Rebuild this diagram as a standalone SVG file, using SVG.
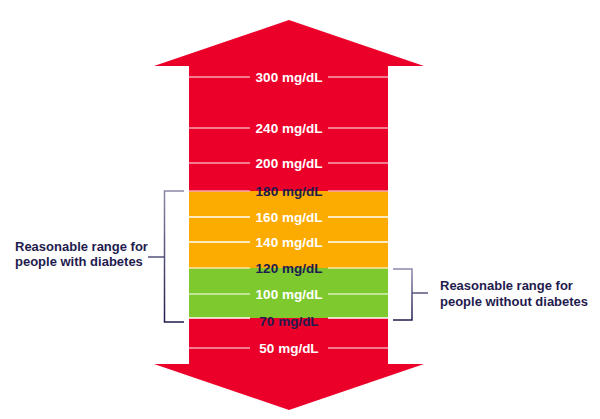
<svg xmlns="http://www.w3.org/2000/svg" width="600" height="419" viewBox="0 0 600 419">
<style>
.v{font-family:"Liberation Sans",Arial,sans-serif;font-weight:700;font-size:13.5px;text-anchor:middle}
.w{fill:#ffffff}
.d{fill:#1f1b4e}
.lab{font-family:"Liberation Sans",Arial,sans-serif;font-weight:700;font-size:13px;fill:#1f1b4e}
.t{stroke-width:1.3;fill:none}
.br{fill:none;stroke:url(#bg);stroke-width:1.5}
</style>
<defs>
<linearGradient id="bg" x1="0" y1="0" x2="0" y2="1">
<stop offset="0" stop-color="#8a88a8"/>
<stop offset="1" stop-color="#1f1b4e"/>
</linearGradient>
</defs>
<g id="arrow">
<polygon points="289,20 424,66 388,66 388,364 424,364 289,410 154,364 189,364 189,66 154,66" fill="#eb0029"/>
<rect x="189" y="191" width="199" height="77" fill="#fcab00"/>
<rect x="189" y="268" width="199" height="50" fill="#7ec92e"/>
</g>
<g id="ticks">
<g class="t" stroke="#f7a3b1">
<path d="M189 77H250M328 77H388"/>
<path d="M189 128H250M328 128H388"/>
<path d="M189 163H250M328 163H388"/>
<path d="M189 191H250M328 191H388"/>
<path d="M189 348H250M328 348H388"/>
</g>
<g class="t" stroke="#ffffff">
<path d="M189 217H250M328 217H388"/>
<path d="M189 242H250M328 242H388"/>
<path d="M189 318H250M328 318H388"/>
</g>
<g class="t" stroke="#fde7a8">
<path d="M189 268H250M328 268H388"/>
</g>
<g class="t" stroke="#d6efb8">
<path d="M189 294H250M328 294H388"/>
</g>
</g>
<g id="values" class="v">
<text class="w" x="289" y="81.5">300 mg/dL</text>
<text class="w" x="289" y="132.5">240 mg/dL</text>
<text class="w" x="289" y="167.5">200 mg/dL</text>
<text class="d" x="289" y="195.5">180 mg/dL</text>
<text class="w" x="289" y="221.5">160 mg/dL</text>
<text class="w" x="289" y="246.5">140 mg/dL</text>
<text class="d" x="289" y="272.5">120 mg/dL</text>
<text class="w" x="289" y="298.5">100 mg/dL</text>
<text class="d" x="289" y="325.5">70 mg/dL</text>
<text class="w" x="289" y="352.5">50 mg/dL</text>
</g>
<g id="connectors">
<path class="br" d="M184 191H164.5V322H184M164.5 257H148"/>
<path class="br" d="M393 269H412V320H393M412 293H428"/>
</g>
<g id="label-diabetes">
<text class="lab" x="15" y="251">Reasonable range for</text>
<text class="lab" x="15" y="266">people with diabetes</text>
</g>
<g id="label-without">
<text class="lab" x="440" y="290">Reasonable range for</text>
<text class="lab" x="440" y="306">people without diabetes</text>
</g>
</svg>
